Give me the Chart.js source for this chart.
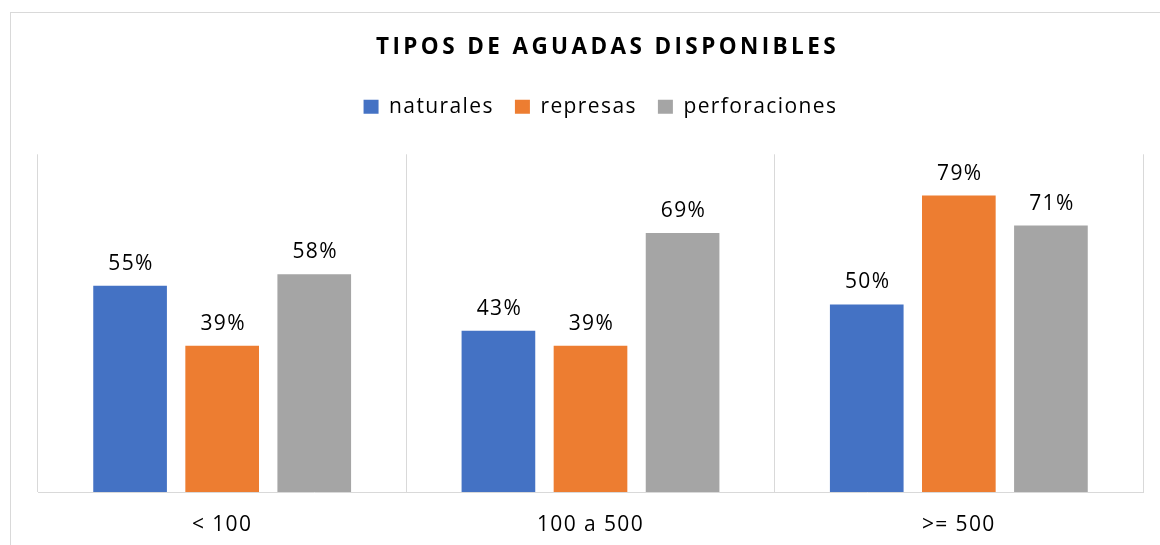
<!DOCTYPE html>
<html>
<head>
<meta charset="utf-8">
<script src="https://cdn.jsdelivr.net/npm/chart.js@4/dist/chart.umd.min.js"></script>
<style>
  html, body { margin: 0; padding: 0; background: #fff; }
  #c { display: block; }
</style>
</head>
<body>
<canvas id="c" width="1160" height="545"></canvas>
<script>
const categories = ['< 100', '100 a 500', '>= 500'];
const naturales = [55, 43, 50];
const represas = [39, 39, 79];
const perforaciones = [58, 69, 71];
const seriesNames = ['naturales', 'represas', 'perforaciones'];
const titleText = 'TIPOS DE AGUADAS DISPONIBLES';

const FONT = "'Open Sans', 'Noto Sans', sans-serif";
const TEXT_SPACING = '1.4px';
const TITLE_SPACING = '3.4px';

const frameAndSpacing = {
  id: 'frameAndSpacing',
  afterInit(chart) {
    const tb = chart.titleBlock;
    const tDraw = tb.draw.bind(tb);
    tb.draw = function () {
      const c = chart.ctx;
      const prev = c.letterSpacing;
      c.save();
      c.letterSpacing = TITLE_SPACING;
      c.translate(17, 0);
      tDraw();
      c.restore();
      c.letterSpacing = prev;
    };
    const lg = chart.legend;
    const lFit = lg.fit.bind(lg);
    lg.fit = function () { lFit(); this.height += 27; };
    const lDraw = lg.draw.bind(lg);
    lg.draw = function () {
      const c = chart.ctx;
      c.save();
      c.translate(10, 0);
      lDraw();
      c.restore();
    };
  },
  beforeUpdate(chart) { chart.ctx.letterSpacing = TEXT_SPACING; },
  beforeLayout(chart) { chart.ctx.letterSpacing = TEXT_SPACING; },
  beforeDraw(chart) {
    const c = chart.ctx;
    c.letterSpacing = TEXT_SPACING;
    c.save();
    c.fillStyle = '#ffffff';
    c.fillRect(0, 0, chart.width, chart.height);
    c.strokeStyle = '#d9d9d9';
    c.lineWidth = 1;
    c.strokeRect(10.5, 12.5, chart.width + 20, chart.height + 20);
    c.restore();
  }
};

const barLabels = {
  id: 'barLabels',
  afterDatasetsDraw(chart) {
    const c = chart.ctx;
    c.save();
    c.letterSpacing = TEXT_SPACING;
    c.font = "21px " + FONT;
    c.fillStyle = '#000000';
    c.textAlign = 'center';
    c.textBaseline = 'alphabetic';
    chart.data.datasets.forEach((ds, i) => {
      const meta = chart.getDatasetMeta(i);
      meta.data.forEach((el, j) => {
        c.fillText(ds.data[j] + '%', el.x + 1, el.y - 16);
      });
    });
    c.restore();
  }
};

new Chart(document.getElementById('c'), {
  type: 'bar',
  data: {
    labels: categories,
    datasets: [
      { label: seriesNames[0], data: naturales, backgroundColor: '#4472C4', borderWidth: 0 },
      { label: seriesNames[1], data: represas, backgroundColor: '#ED7D31', borderWidth: 0 },
      { label: seriesNames[2], data: perforaciones, backgroundColor: '#A5A5A5', borderWidth: 0 }
    ]
  },
  options: {
    responsive: false,
    animation: false,
    devicePixelRatio: 1,
    categoryPercentage: 0.75,
    barPercentage: 0.8,
    layout: { padding: { top: 0, left: 38, right: 17, bottom: 10 } },
    plugins: {
      tooltip: { enabled: false },
      title: {
        display: true,
        text: titleText,
        color: '#000000',
        font: { family: FONT, size: 22.5, weight: 'bold' },
        padding: { top: 34, bottom: 14.3 }
      },
      legend: {
        display: true,
        position: 'top',
        labels: {
          color: '#000000',
          font: { family: FONT, size: 21 },
          boxWidth: 15,
          boxHeight: 14,
          padding: 21
        }
      }
    },
    scales: {
      x: {
        offset: true,
        grid: { display: true, offset: true, color: '#d9d9d9', lineWidth: 1, drawTicks: false },
        border: { display: true, color: '#d9d9d9', width: 1 },
        ticks: { color: '#000000', font: { family: FONT, size: 21 }, padding: 20, maxRotation: 0 },
        afterFit(scale) { scale.height = 43; }
      },
      y: {
        display: false,
        min: 0,
        max: 90
      }
    }
  },
  plugins: [frameAndSpacing, barLabels]
});
</script>
</body>
</html>
